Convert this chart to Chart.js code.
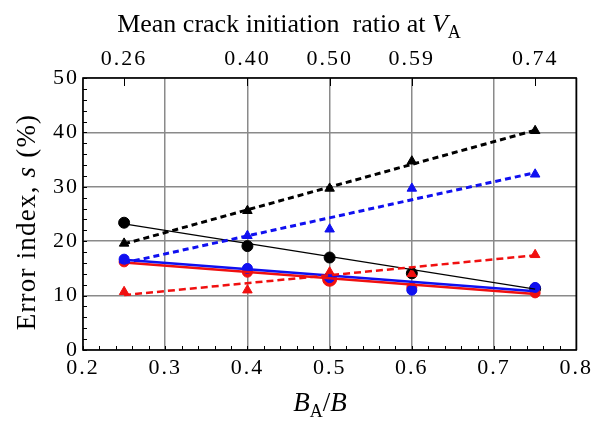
<!DOCTYPE html>
<html>
<head>
<meta charset="utf-8">
<script src="https://cdn.jsdelivr.net/npm/chart.js@4/dist/chart.umd.min.js"></script>
<style>
  html, body { margin: 0; padding: 0; background: #fff; }
  #wrap { width: 595px; height: 426px; position: relative; }
</style>
</head>
<body>
<div id="wrap"><canvas id="c" width="595" height="426"></canvas></div>
<script>
// Width ratio B_A/B for each specimen group
const baRatio = [0.25, 0.4, 0.5, 0.6, 0.75];
// Mean crack initiation ratio at V_A (top axis labels at the same positions)
const topTickLabels = ['0.26', '0.40', '0.50', '0.59', '0.74'];
const bottomTickValues = [0.2, 0.3, 0.4, 0.5, 0.6, 0.7, 0.8];
const leftTickValues = [0, 10, 20, 30, 40, 50];

// Error index s (%) — circle markers
const blackCircle = [23.4, 19.1, 17.0, 14.1, 11.3];
const blueCircle  = [16.7, 15.0, 13.3, 11.0, 11.5];
const redCircle   = [16.2, 14.3, 13.0, 11.5, 10.5];
// Error index s (%) — triangle markers
const blackTriangle = [19.6, 25.6, 29.7, 34.7, 40.3];
const blueTriangle  = [16.5, 21.0, 22.2, 29.7, 32.3];
const redTriangle   = [10.7, 11.0, 14.3, 14.0, 17.5];

// Linear trend lines: values at the first and last ratio
const fitX = [0.25, 0.75];
const blackSolidFit = [23.2, 11.2];
const blueSolidFit  = [16.6, 10.8];
const redSolidFit   = [16.1, 10.3];
const blackDashFit  = [19.5, 40.4];
const blueDashFit   = [16.0, 32.6];
const redDashFit    = [10.1, 17.4];

const BLUE = '#1010f0';
const RED = '#f01010';
const SERIF = '"Liberation Serif", "DejaVu Serif", serif';

const pts = (xs, ys) => xs.map((x, i) => ({ x, y: ys[i] }));

function markers(ys, color, style, radius) {
  return {
    data: pts(baRatio, ys), showLine: false, pointStyle: style,
    pointRadius: radius, pointBackgroundColor: color, pointBorderColor: color,
    borderColor: color, pointBorderWidth: 1
  };
}
function trend(ys, color, width, dash) {
  return {
    data: pts(fitX, ys), showLine: true, pointRadius: 0,
    borderColor: color, borderWidth: width, borderDash: dash || []
  };
}

// Slightly spaced digits on the tick labels
const spacing = {
  id: 'spacing',
  beforeDraw(chart) { chart.ctx.letterSpacing = '2px'; },
  afterDraw(chart) { chart.ctx.letterSpacing = '0px'; }
};

// Minor ticks, inward major ticks on the top axis, frame and axis titles
const decor = {
  id: 'decor',
  afterDatasetsDraw(chart) {
    const { ctx, chartArea: a, scales } = chart;
    const x = scales.x, y = scales.y;
    ctx.save();
    ctx.letterSpacing = '0px';
    ctx.strokeStyle = '#000';
    ctx.lineWidth = 1;
    ctx.beginPath();
    for (let v = 0.2; v <= 0.8001; v += 0.02) {
      const px = Math.round(x.getPixelForValue(v)) + 0.5;
      ctx.moveTo(px, a.bottom); ctx.lineTo(px, a.bottom - 4);
    }
    for (let v = 0; v <= 50.001; v += 2) {
      const py = Math.round(y.getPixelForValue(v)) + 0.5;
      ctx.moveTo(a.left, py); ctx.lineTo(a.left + 4, py);
    }
    baRatio.forEach(v => {
      const px = Math.round(x.getPixelForValue(v)) + 0.5;
      ctx.moveTo(px, a.top); ctx.lineTo(px, a.top + 8);
    });
    ctx.stroke();
    ctx.lineWidth = 1.6;
    ctx.strokeRect(a.left, a.top, a.right - a.left, a.bottom - a.top);

    // Titles with italic symbols and subscripts
    function rich(parts, cx, cy, ls) {
      ctx.letterSpacing = ls || '0px';
      let w = 0;
      parts.forEach(p => { ctx.font = p.f; w += ctx.measureText(p.t).width; });
      let cur = cx - w / 2;
      ctx.textBaseline = 'alphabetic';
      ctx.textAlign = 'left';
      ctx.fillStyle = '#000';
      parts.forEach(p => {
        ctx.font = p.f;
        ctx.fillText(p.t, cur, cy + (p.dy || 0));
        cur += ctx.measureText(p.t).width;
      });
    }
    const f = (s, it) => (it ? 'italic ' : '') + s + 'px ' + SERIF;
    rich([{ t: 'Mean crack initiation  ratio at ', f: f(26) }, { t: 'V', f: f(26, 1) }, { t: 'A', f: f(18), dy: 6 }], 289, 32);
    rich([{ t: 'B', f: f(27, 1) }, { t: 'A', f: f(18), dy: 6 }, { t: '/', f: f(27) }, { t: 'B', f: f(27, 1) }], 320, 411);
    ctx.save();
    ctx.translate(35, 222);
    ctx.rotate(-Math.PI / 2);
    rich([{ t: 'Error index, ', f: f(27) }, { t: 's', f: f(27, 1) }, { t: ' (%)', f: f(27) }], 0, 0, '1.2px');
    ctx.restore();
    ctx.restore();
  }
};

const tickFont = { family: SERIF, size: 22 };

new Chart(document.getElementById('c'), {
  type: 'line',
  data: {
    datasets: [
      trend(blackDashFit, '#000', 3, [6, 4]),
      trend(blueDashFit, BLUE, 3, [6, 4]),
      trend(redDashFit, RED, 2.5, [7, 4]),
      trend(blackSolidFit, '#000', 1.2),
      trend(blueSolidFit, BLUE, 2.5),
      trend(redSolidFit, RED, 2.5),
      markers(blackTriangle, '#000', 'triangle', 5.5),
      markers(blueTriangle, BLUE, 'triangle', 5.5),
      markers(redTriangle, RED, 'triangle', 5.5),
      markers(blueCircle, BLUE, 'circle', 5),
      markers(redCircle, RED, 'circle', [5, 5, 7, 5, 5]),
      markers(blackCircle, '#000', 'circle', 5.5)
    ]
  },
  options: {
    responsive: false,
    animation: false,
    layout: { padding: { right: 18 } },
    plugins: { legend: { display: false }, tooltip: { enabled: false } },
    scales: {
      x: {
        type: 'linear', position: 'bottom', min: 0.2, max: 0.8,
        afterBuildTicks: s => { s.ticks = bottomTickValues.map(v => ({ value: v })); },
        afterFit: s => { s.height = 76; },
        border: { display: false },
        grid: { color: '#8a8a8a', lineWidth: 1.5, drawTicks: false },
        ticks: {
          padding: 5, color: '#000', font: tickFont,
          callback: v => v.toFixed(1), maxRotation: 0
        }
      },
      x2: {
        type: 'linear', position: 'top', min: 0.2, max: 0.8,
        afterBuildTicks: s => { s.ticks = baRatio.map(v => ({ value: v })); },
        afterFit: s => { s.height = 78; },
        border: { display: false },
        grid: { display: false, drawTicks: false },
        ticks: {
          padding: 6, color: '#000', font: tickFont,
          callback: (v, i) => topTickLabels[i], maxRotation: 0, autoSkip: false
        }
      },
      y: {
        type: 'linear', min: 0, max: 50,
        afterBuildTicks: s => { s.ticks = leftTickValues.map(v => ({ value: v })); },
        afterFit: s => { s.width = 83; },
        border: { display: false },
        grid: { color: '#8a8a8a', lineWidth: 1.5, drawTicks: false },
        ticks: { padding: 4, color: '#000', font: tickFont }
      }
    }
  },
  plugins: [spacing, decor]
});
</script>
</body>
</html>
